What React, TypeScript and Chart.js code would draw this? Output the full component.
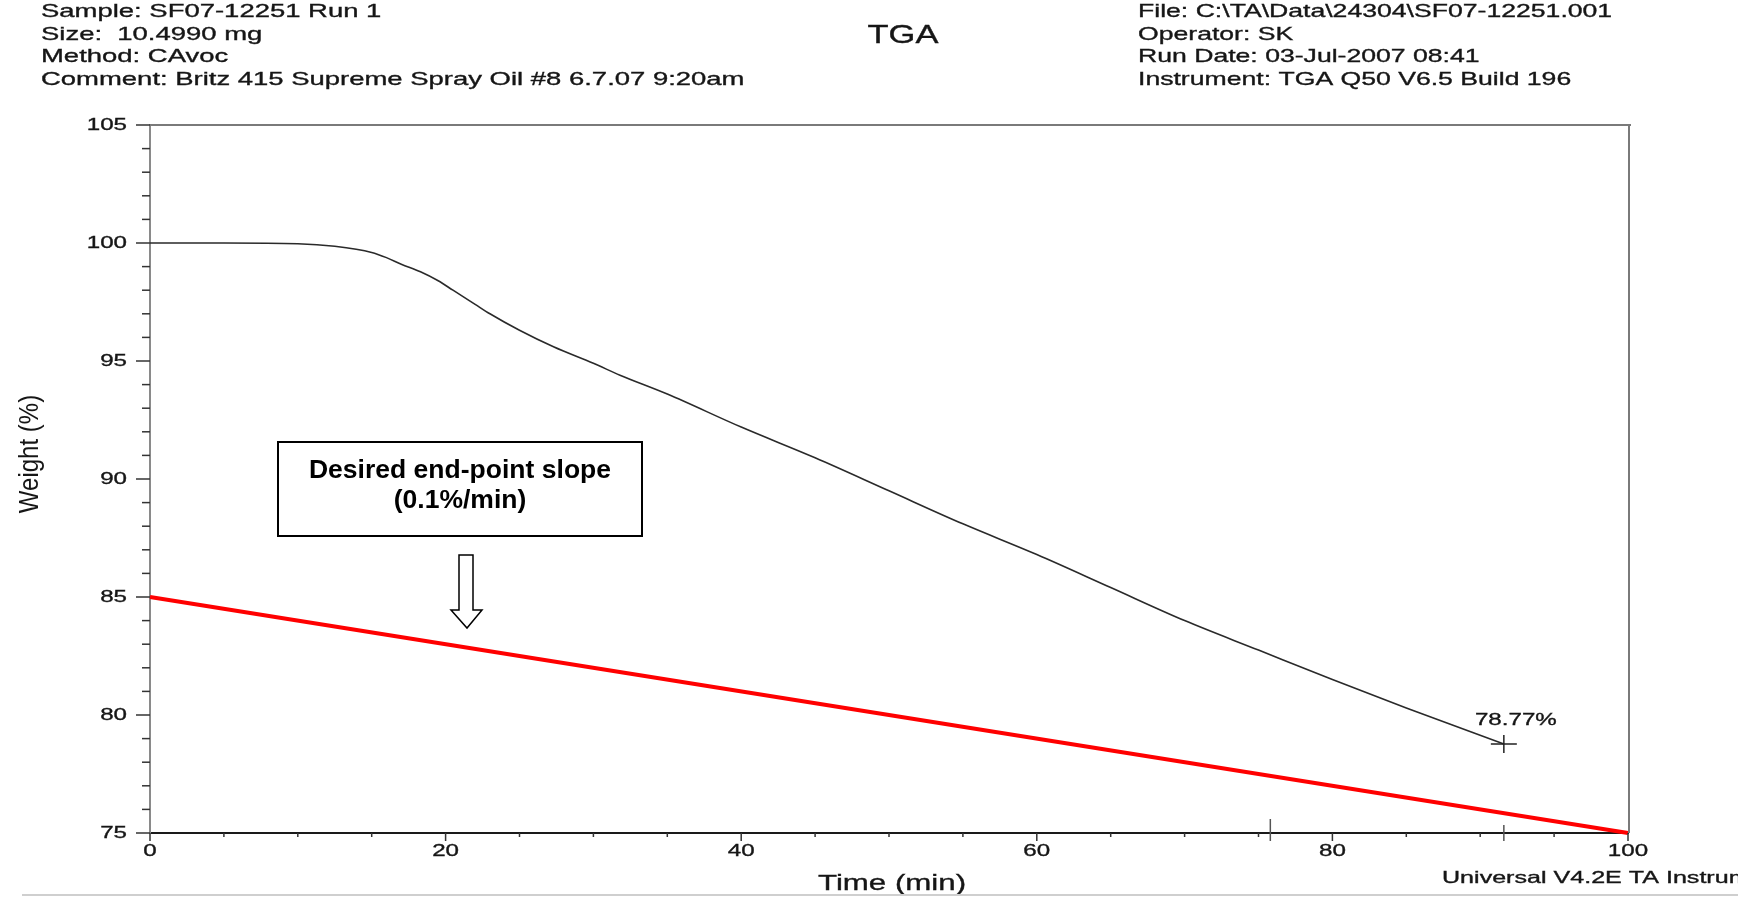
import React, { useEffect, useRef } from "react";
import { Chart, registerables } from "chart.js";

Chart.register(...registerables);

// ---- Data ----
const TIME_MIN = [0, 5, 10, 12.5, 15, 16, 17, 18.3, 19.5, 20.5, 22, 23, 25, 27.3, 30, 31.8, 35, 40, 45, 50, 55, 60, 65, 70, 75, 80, 85, 91.6];
const WEIGHT_PCT = [100, 100, 99.97, 99.86, 99.6, 99.38, 99.1, 98.78, 98.4, 98.0, 97.4, 97.0, 96.3, 95.6, 94.9, 94.4, 93.6, 92.2, 90.9, 89.5, 88.1, 86.8, 85.4, 84.0, 82.75, 81.5, 80.3, 78.77];
const SLOPE_TIME = [0, 100];
const SLOPE_WEIGHT = [85, 75];
const END_POINT = { time: 91.6, weight: 78.77, label: "78.77%" };
const EVENT_MARKS = [75.8, 91.6];

const X_MIN = 0, X_MAX = 100, X_MAJOR = 20, X_MINOR = 5;
const Y_MIN = 75, Y_MAX = 105, Y_MAJOR = 5, Y_MINOR = 1;

const HEADER_LEFT = [
  "Sample: SF07-12251 Run 1",
  "Size:  10.4990 mg",
  "Method: CAvoc",
  "Comment: Britz 415 Supreme Spray Oil #8 6.7.07 9:20am",
];
const HEADER_RIGHT = [
  "File: C:\\TA\\Data\\24304\\SF07-12251.001",
  "Operator: SK",
  "Run Date: 03-Jul-2007 08:41",
  "Instrument: TGA Q50 V6.5 Build 196",
];
const TITLE = "TGA";
const X_TITLE = "Time (min)";
const Y_TITLE = "Weight (%)";
const FOOTER = "Universal V4.2E TA Instruments";
const NOTE_LINES = ["Desired end-point slope", "(0.1%/min)"];

const FONT = "'Liberation Sans', Arial, Helvetica, sans-serif";
const SX = 1.42;
const INK = "#161616";

function sText(
  ctx: CanvasRenderingContext2D,
  text: string,
  x: number,
  y: number,
  size: number,
  align: CanvasTextAlign,
  sx = SX,
  weight = "normal",
  color = INK,
  stroke = 0.35
) {
  ctx.save();
  ctx.translate(x, y);
  ctx.scale(sx, 1);
  ctx.font = `${weight} ${size}px ${FONT}`;
  ctx.textAlign = align;
  ctx.textBaseline = "middle";
  ctx.fillStyle = color;
  ctx.fillText(text, 0, 0);
  if (stroke > 0) {
    ctx.strokeStyle = color;
    ctx.lineWidth = stroke;
    ctx.strokeText(text, 0, 0);
  }
  ctx.restore();
}

const decorPlugin = {
  id: "decor",
  afterDraw(chart: any) {
    const ctx: CanvasRenderingContext2D = chart.ctx;
    const xs = chart.scales.x;
    const ys = chart.scales.y;
    const area = chart.chartArea;
    ctx.save();

    // frame (top/right)
    ctx.strokeStyle = "#7a7a7a";
    ctx.lineWidth = 2;
    ctx.beginPath();
    ctx.moveTo(area.left, area.top);
    ctx.lineTo(area.right + 3, area.top);
    ctx.moveTo(area.right + 1, area.top);
    ctx.lineTo(area.right + 1, area.bottom);
    ctx.stroke();

    // y ticks
    ctx.strokeStyle = "#333";
    ctx.lineWidth = 1.5;
    for (let v = Y_MIN; v <= Y_MAX + 1e-9; v += Y_MINOR) {
      const py = ys.getPixelForValue(v);
      const major = Math.abs(v / Y_MAJOR - Math.round(v / Y_MAJOR)) < 1e-6;
      ctx.beginPath();
      ctx.moveTo(area.left - (major ? 14 : 8), py);
      ctx.lineTo(area.left, py);
      ctx.stroke();
    }
    // x ticks
    for (let v = X_MIN; v <= X_MAX + 1e-9; v += X_MINOR) {
      const px = xs.getPixelForValue(v);
      const major = Math.abs(v / X_MAJOR - Math.round(v / X_MAJOR)) < 1e-6;
      ctx.beginPath();
      ctx.moveTo(px, area.bottom);
      ctx.lineTo(px, area.bottom + (major ? 8 : 4));
      ctx.stroke();
    }
    // event marks on x axis
    ctx.strokeStyle = "#555";
    ctx.lineWidth = 1.5;
    EVENT_MARKS.forEach((t, i) => {
      const px = xs.getPixelForValue(t);
      ctx.beginPath();
      ctx.moveTo(px, area.bottom - (i === 0 ? 14 : 8));
      ctx.lineTo(px, area.bottom + 8);
      ctx.stroke();
    });

    // tick labels
    ys.ticks.forEach((t: any) => {
      sText(ctx, String(t.value), area.left - 23, ys.getPixelForValue(t.value), 17, "right");
    });
    xs.ticks.forEach((t: any) => {
      sText(ctx, String(t.value), xs.getPixelForValue(t.value), area.bottom + 18, 17, "center");
    });

    // axis titles
    sText(ctx, X_TITLE, (area.left + area.right) / 2 + 3, 884, 22, "center");
    ctx.save();
    ctx.translate(30, 454);
    ctx.rotate(-Math.PI / 2);
    ctx.scale(1, 1.15);
    ctx.font = `normal 24px ${FONT}`;
    ctx.textAlign = "center";
    ctx.textBaseline = "middle";
    ctx.fillStyle = INK;
    ctx.fillText(Y_TITLE, 0, 0);
    ctx.restore();

    // header
    HEADER_LEFT.forEach((s, i) => sText(ctx, s, 41, 12 + i * 22.5, 19, "left", 1.445));
    HEADER_RIGHT.forEach((s, i) => sText(ctx, s, 1138, 12 + i * 22.5, 19, "left", 1.4));
    sText(ctx, TITLE, 903, 36, 25, "center", 1.38);
    sText(ctx, FOOTER, 1442, 878, 16.5, "left", 1.52);

    // footer rule
    ctx.strokeStyle = "#cfcfcf";
    ctx.lineWidth = 2;
    ctx.beginPath();
    ctx.moveTo(22, 895);
    ctx.lineTo(1738, 895);
    ctx.stroke();

    // end point marker
    const ex = xs.getPixelForValue(END_POINT.time);
    const ey = ys.getPixelForValue(END_POINT.weight);
    ctx.strokeStyle = "#222";
    ctx.lineWidth = 1.5;
    ctx.beginPath();
    ctx.moveTo(ex - 13, ey);
    ctx.lineTo(ex + 13, ey);
    ctx.moveTo(ex, ey - 9);
    ctx.lineTo(ex, ey + 9);
    ctx.stroke();
    sText(ctx, END_POINT.label, ex + 12, ey - 24, 17, "center");

    // annotation box
    ctx.strokeStyle = "#000";
    ctx.lineWidth = 2;
    ctx.strokeRect(278, 442, 364, 94);
    sText(ctx, NOTE_LINES[0], 460, 471, 26, "center", 1.02, "bold", "#000", 0);
    sText(ctx, NOTE_LINES[1], 460, 501, 26, "center", 1.02, "bold", "#000", 0);

    // hollow arrow
    ctx.lineWidth = 1.5;
    ctx.fillStyle = "#fff";
    ctx.beginPath();
    ctx.moveTo(459, 555);
    ctx.lineTo(473, 555);
    ctx.lineTo(473, 610);
    ctx.lineTo(482, 610);
    ctx.lineTo(467, 628);
    ctx.lineTo(451, 610);
    ctx.lineTo(459, 610);
    ctx.closePath();
    ctx.fill();
    ctx.stroke();

    ctx.restore();
  },
};

export default function App() {
  const ref = useRef<HTMLCanvasElement | null>(null);
  useEffect(() => {
    if (!ref.current) return;
    const chart = new Chart(ref.current, {
      type: "line",
      data: {
        datasets: [
          {
            label: "Weight",
            data: TIME_MIN.map((t, i) => ({ x: t, y: WEIGHT_PCT[i] })),
            borderColor: "#2a2a2a",
            borderWidth: 1.6,
            pointRadius: 0,
            cubicInterpolationMode: "monotone",
            fill: false,
          },
          {
            label: "Slope",
            data: SLOPE_TIME.map((t, i) => ({ x: t, y: SLOPE_WEIGHT[i] })),
            borderColor: "#ff0000",
            borderWidth: 4,
            pointRadius: 0,
            fill: false,
            clip: false as any,
          },
        ],
      },
      options: {
        animation: false,
        responsive: false,
        maintainAspectRatio: false,
        layout: { padding: { left: 150, top: 125, right: 110, bottom: 65 } },
        plugins: { legend: { display: false }, tooltip: { enabled: false } },
        scales: {
          x: {
            type: "linear",
            min: X_MIN,
            max: X_MAX,
            ticks: { display: false, stepSize: X_MAJOR },
            grid: { display: false, drawTicks: false, tickLength: 0 },
            border: { display: true, color: "#1a1a1a", width: 2 },
          },
          y: {
            type: "linear",
            min: Y_MIN,
            max: Y_MAX,
            ticks: { display: false, stepSize: Y_MAJOR },
            grid: { display: false, drawTicks: false, tickLength: 0 },
            border: { display: true, color: "#8a8a8a", width: 2 },
          },
        },
      },
      plugins: [decorPlugin],
    });
    return () => chart.destroy();
  }, []);
  return (
    <div style={{ position: "fixed", left: 0, top: 0, width: 1738, height: 898, background: "#fff" }}>
      <canvas ref={ref} width={1738} height={898} style={{ width: 1738, height: 898 }} />
    </div>
  );
}
